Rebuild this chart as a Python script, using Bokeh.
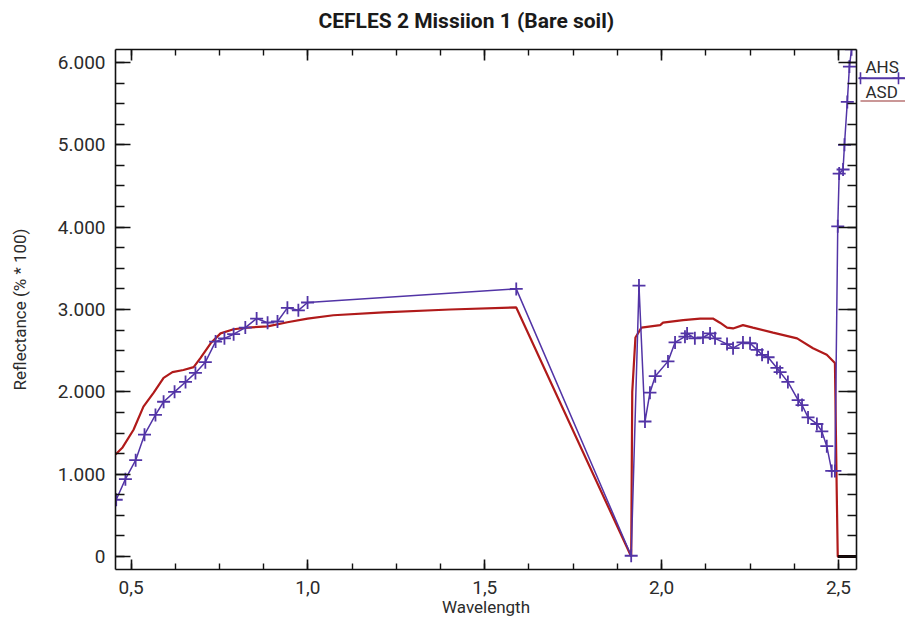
from bokeh.plotting import figure
from bokeh.models import LinearAxis, FixedTicker, CustomJSTickFormatter, Range1d
from bokeh.layouts import row
from bokeh.embed import file_html
from bokeh.resources import INLINE
from bokeh.core.properties import value
import numpy as np

title_text = "CEFLES 2 Missiion 1 (Bare soil)"
x_label = "Wavelength"
y_label = "Reflectance (% * 100)"
legend_names = ["AHS", "ASD"]

x_major = [0.5, 1.0, 1.5, 2.0, 2.5]
y_major = [0, 1000, 2000, 3000, 4000, 5000, 6000]

# ASD (field spectrometer) spectrum
asd_wl = [0.456, 0.476, 0.507, 0.535, 0.564, 0.592, 0.617, 0.648, 0.677, 0.696,
          0.725, 0.753, 0.790, 0.829, 0.886, 0.942, 0.999, 1.072, 1.213, 1.402,
          1.589, 1.914, 1.917, 1.926, 1.943, 1.996, 2.004, 2.061, 2.109, 2.145,
          2.165, 2.185, 2.202, 2.230, 2.258, 2.315, 2.383, 2.428, 2.467, 2.490,
          2.495, 2.498, 2.551]
asd_refl = [1240, 1325, 1540, 1820, 1990, 2170, 2240, 2265, 2300, 2410,
            2590, 2710, 2760, 2780, 2795, 2845, 2890, 2930, 2965, 3000,
            3025, 0, 2000, 2660, 2780, 2810, 2840, 2870, 2890, 2890,
            2840, 2780, 2770, 2810, 2780, 2720, 2650, 2530, 2450, 2350,
            820, 0, 0]
asd_tail_wl = [2.498, 2.551]
asd_tail_refl = [0, 0]

# AHS (airborne) spectrum
ahs_wl = [0.458, 0.484, 0.513, 0.538, 0.569, 0.592, 0.623, 0.654, 0.682, 0.710,
          0.739, 0.764, 0.790, 0.823, 0.855, 0.886, 0.914, 0.942, 0.973, 0.999,
          1.589, 1.914, 1.936, 1.953, 1.967, 1.982, 2.018, 2.038, 2.066, 2.072,
          2.094, 2.117, 2.137, 2.151, 2.185, 2.202, 2.230, 2.250, 2.270, 2.284,
          2.301, 2.326, 2.335, 2.357, 2.386, 2.397, 2.414, 2.439, 2.453, 2.467,
          2.481, 2.490, 2.498, 2.502, 2.513, 2.517, 2.525, 2.531, 2.537]
ahs_refl = [690, 940, 1170, 1480, 1720, 1880, 2000, 2120, 2230, 2360,
            2610, 2650, 2700, 2780, 2890, 2840, 2855, 3020, 2990, 3085,
            3250, 10, 3290, 1640, 1990, 2190, 2370, 2600, 2670, 2710,
            2650, 2660, 2710, 2650, 2580, 2530, 2600, 2590, 2510, 2450,
            2420, 2290, 2240, 2120, 1900, 1840, 1690, 1610, 1520, 1340,
            1040, 1040, 4010, 4650, 4700, 5000, 5520, 5950, 6160]

RED = "#b01a1a"
PURPLE = "#5234a6"
FONT = "Roboto"
TXT = "#2b2b2b"

x_minor = [round(v, 3) for v in np.arange(0.5, 2.5001, 0.125)]
y_minor = [float(v) for v in np.arange(0, 6001, 250)]

p = figure(width=858, height=619, output_backend="svg", toolbar_location=None,
           x_range=Range1d(0.456, 2.551), y_range=Range1d(-157, 6157),
           min_border_left=115, min_border_right=2, min_border_top=47,
           min_border_bottom=48, background_fill_color="white",
           border_fill_color="white")
p.outline_line_color = None
p.grid.visible = False

p.title.text = title_text
p.title.text_font = FONT
p.title.text_font_size = "21px"
p.title.text_font_style = "bold"
p.title.text_color = "#1a1a1a"
p.title.align = "left"
p.title.offset = 203
p.title.standoff = 12

xt = FixedTicker(ticks=x_major, minor_ticks=x_minor)
yt = FixedTicker(ticks=y_major, minor_ticks=y_minor)
xfmt = CustomJSTickFormatter(code="return tick.toFixed(1).replace('.', ',');")
yfmt = CustomJSTickFormatter(code="return tick == 0 ? '0' : (tick/1000).toFixed(3);")
blank = CustomJSTickFormatter(code="return '';")

def style(ax, major_in, minor_in):
    ax.axis_line_color = "#111111"
    ax.axis_line_width = 1.6
    ax.major_tick_line_color = "#111111"
    ax.minor_tick_line_color = "#111111"
    ax.major_tick_line_width = 1.6
    ax.minor_tick_line_width = 1.4
    ax.major_tick_in = major_in
    ax.major_tick_out = 0
    ax.minor_tick_in = minor_in
    ax.minor_tick_out = 0
    ax.major_label_text_font = FONT
    ax.major_label_text_font_size = "19px"
    ax.major_label_text_color = TXT

xa = p.xaxis[0]
xa.ticker = xt
xa.formatter = xfmt
style(xa, 10, 6)
xa.major_label_standoff = 11
xa.axis_label = x_label
xa.axis_label_text_font = FONT
xa.axis_label_text_font_size = "17px"
xa.axis_label_text_font_style = "normal"
xa.axis_label_text_color = TXT
xa.axis_label_standoff = 0

ya = p.yaxis[0]
ya.ticker = yt
ya.formatter = yfmt
style(ya, 15, 9)
ya.major_label_standoff = 10
ya.axis_label = y_label
ya.axis_label_text_font = FONT
ya.axis_label_text_font_size = "17px"
ya.axis_label_text_font_style = "normal"
ya.axis_label_text_color = TXT
ya.axis_label_standoff = 25

# top mirror axis; a tiny blank axis label reserves a few pixels so the
# title sits higher above the frame
top = LinearAxis(ticker=xt, formatter=blank, major_label_standoff=0,
                 axis_label=" ", axis_label_text_font_size="6px",
                 axis_label_standoff=2)
style(top, 11, 6)
p.add_layout(top, "above")
right = LinearAxis(ticker=yt, formatter=blank, major_label_standoff=0)
style(right, 18, 9)
p.add_layout(right, "right")

p.line(asd_wl, asd_refl, line_color=RED, line_width=2.2)
p.line(asd_tail_wl, asd_tail_refl, line_color="#1a0000", line_width=3)
p.line(ahs_wl, ahs_refl, line_color=PURPLE, line_width=1.5)
p.scatter(ahs_wl, ahs_refl, marker="cross", size=13, line_color=PURPLE, line_width=1.8)

# legend strip to the right of the frame; its frame is aligned with the main
# frame, so its y range spans the same pixel rows (y grows downward)
lg = figure(width=47, height=619, output_backend="svg", toolbar_location=None,
            x_range=Range1d(0, 47), y_range=Range1d(571, 47),
            x_axis_location=None, y_axis_location=None,
            min_border_left=0, min_border_right=0, min_border_top=0, min_border_bottom=0,
            background_fill_color="white", border_fill_color="white")
lg.outline_line_color = None
lg.grid.visible = False
lg.text(x=[7, 7], y=[65, 90], text=legend_names, text_font=value(FONT),
        text_font_size="17px", text_baseline="middle", text_align="left", text_color=TXT)
lg.line([0, 47], [76, 76], line_color=PURPLE, line_width=2)
lg.scatter([2, 40], [76, 76], marker="cross", size=12, line_color=PURPLE, line_width=1.6)
lg.line([2, 47], [99, 99], line_color="#b87474", line_width=1.5)

layout = row(p, lg)
open("out.html", "w").write(file_html(layout, INLINE))
